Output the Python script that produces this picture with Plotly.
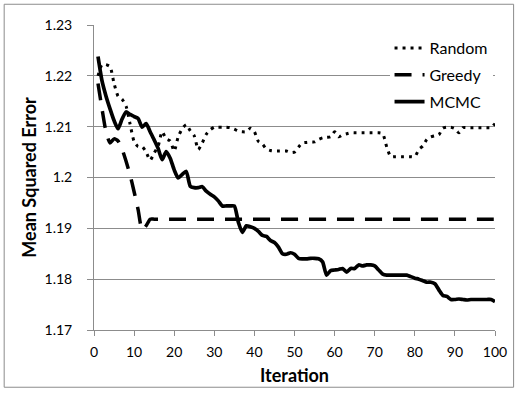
import plotly.graph_objects as go

iterations = list(range(1, 101))

random_mse = [
    1.2200, 1.2222, 1.2222, 1.2218, 1.2185, 1.2160, 1.2154, 1.2140, 1.2105, 1.2071,
    1.2061, 1.2061, 1.2050, 1.2034, 1.2048, 1.2062, 1.2090, 1.2076, 1.2072, 1.2052,
    1.2080, 1.2096, 1.2104, 1.2092, 1.2082, 1.2055, 1.2068, 1.2085, 1.2094, 1.2099,
    1.2099, 1.2099, 1.2099, 1.2098, 1.2095, 1.2091, 1.2090, 1.2090, 1.2097, 1.2090,
    1.2071, 1.2066, 1.2056, 1.2053, 1.2052, 1.2052, 1.2052, 1.2052, 1.2049, 1.2050,
    1.2060, 1.2068, 1.2069, 1.2070, 1.2070, 1.2075, 1.2078, 1.2079, 1.2080, 1.2090,
    1.2080, 1.2084, 1.2086, 1.2088, 1.2088, 1.2088, 1.2088, 1.2088, 1.2088, 1.2088,
    1.2088, 1.2086, 1.2060, 1.2041, 1.2041, 1.2041, 1.2041, 1.2041, 1.2041, 1.2041,
    1.2055, 1.2062, 1.2075, 1.2080, 1.2082, 1.2084, 1.2097, 1.2099, 1.2099, 1.2096,
    1.2088, 1.2098, 1.2098, 1.2098, 1.2098, 1.2098, 1.2098, 1.2098, 1.2098, 1.2106,
]

greedy_mse = [
    1.2185, 1.2135, 1.2090, 1.2068, 1.2076, 1.2072, 1.2056, 1.2032, 1.2005, 1.1972,
    1.1937, 1.1897, 1.1905, 1.1918, 1.1918, 1.1918, 1.1918, 1.1918, 1.1918, 1.1918,
] + [1.1918] * 80

mcmc_mse = [
    1.2238, 1.2190, 1.2160, 1.2135, 1.2112, 1.2096, 1.2115, 1.2129, 1.2124, 1.2120,
    1.2116, 1.2099, 1.2106, 1.2090, 1.2074, 1.2057, 1.2035, 1.2051, 1.2038, 1.2015,
    1.1999, 1.2006, 1.2012, 1.1983, 1.1980, 1.1980, 1.1982, 1.1973, 1.1967, 1.1962,
    1.1954, 1.1944, 1.1944, 1.1944, 1.1944, 1.1912, 1.1892, 1.1905, 1.1903, 1.1900,
    1.1894, 1.1886, 1.1884, 1.1876, 1.1872, 1.1863, 1.1850, 1.1849, 1.1852, 1.1849,
    1.1841, 1.1840, 1.1840, 1.1841, 1.1841, 1.1840, 1.1834, 1.1808, 1.1817, 1.1818,
    1.1819, 1.1821, 1.1814, 1.1821, 1.1821, 1.1828, 1.1826, 1.1828, 1.1828, 1.1826,
    1.1818, 1.1810, 1.1808, 1.1808, 1.1808, 1.1808, 1.1808, 1.1808, 1.1805, 1.1802,
    1.1800, 1.1797, 1.1794, 1.1794, 1.1791, 1.1779, 1.1768, 1.1766, 1.1760, 1.1760,
    1.1761, 1.1760, 1.1759, 1.1760, 1.1760, 1.1760, 1.1760, 1.1760, 1.1760, 1.1756,
]

y_tickvals = [1.17, 1.18, 1.19, 1.20, 1.21, 1.22, 1.23]
y_ticktext = ["1.17", "1.18", "1.19", "1.2", "1.21", "1.22", "1.23"]
x_tickvals = [0, 10, 20, 30, 40, 50, 60, 70, 80, 90, 100]

FONT = "Lato"
GRID = "#8c8c8c"

fig = go.Figure()
fig.add_trace(go.Scatter(x=iterations, y=random_mse, name="Random", mode="lines",
                         legendgroup="a",
                         line=dict(color="black", width=3, dash="3px,5px", shape="spline", smoothing=0.6)))
fig.add_trace(go.Scatter(x=iterations, y=greedy_mse, name="Greedy", mode="lines",
                         legendgroup="b",
                         line=dict(color="black", width=3.5, dash="17px,11px", shape="spline", smoothing=0.6)))
fig.add_trace(go.Scatter(x=iterations, y=mcmc_mse, name="MCMC", mode="lines",
                         legendgroup="c",
                         line=dict(color="black", width=3.7, shape="spline", smoothing=0.6)))

fig.update_layout(
    width=519, height=394,
    margin=dict(l=94, r=22, t=25, b=60),
    paper_bgcolor="white", plot_bgcolor="white",
    font=dict(family=FONT, color="black", size=14),
    showlegend=True,
    legend=dict(x=0.737, y=0.98, xanchor="left", yanchor="top",
                bgcolor="white", font=dict(family=FONT, size=16, color="black"),
                tracegroupgap=3),
    shapes=[dict(type="rect", xref="paper", yref="paper",
                 x0=-0.224, x1=1.0464, y0=-0.1877, y1=1.068,
                 line=dict(color="#8c8c8c", width=1), fillcolor="rgba(0,0,0,0)", layer="below")],
)

fig.update_xaxes(range=[0, 100], tickvals=x_tickvals, showgrid=False,
                 showline=True, linecolor=GRID, linewidth=1,
                 ticks="outside", ticklen=5, tickcolor=GRID, ticklabelstandoff=4,
                 tickfont=dict(family=FONT, size=14, color="black"),
                 title=dict(text="<b>Iteration</b>", font=dict(family=FONT, size=18, color="black"), standoff=10),
                 zeroline=False)
fig.update_yaxes(range=[1.17, 1.23], tickvals=y_tickvals, ticktext=y_ticktext,
                 showgrid=True, gridcolor=GRID, gridwidth=1,
                 showline=True, linecolor=GRID, linewidth=1,
                 ticks="outside", ticklen=6, tickcolor=GRID, ticklabelstandoff=12,
                 tickfont=dict(family=FONT, size=14, color="black"),
                 title=dict(text="<b>Mean Squared Error</b>", font=dict(family=FONT, size=18, color="black"), standoff=3),
                 zeroline=False)

fig.write_html("out.html", config={"displayModeBar": False},
               post_script="document.body.style.margin='0';document.body.style.padding='0';")
